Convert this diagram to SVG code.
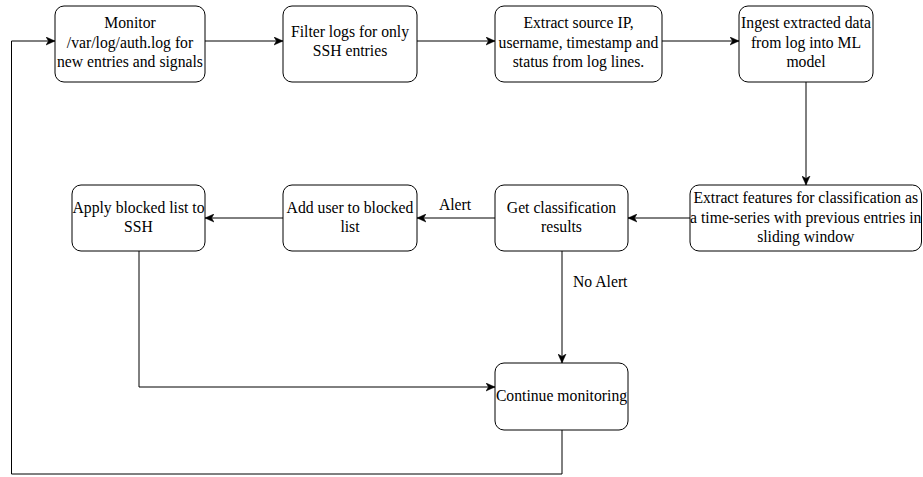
<svg xmlns="http://www.w3.org/2000/svg" width="923" height="477" viewBox="0 0 923 477">
<style>
.box{fill:#fff;stroke:#000;stroke-width:1}
.t{font-family:"Liberation Serif","Times New Roman",serif;font-size:15.7px;fill:#000;text-anchor:middle}
.l{font-family:"Liberation Serif","Times New Roman",serif;font-size:15.7px;fill:#000}
.c{fill:none;stroke:#000;stroke-width:1;marker-end:url(#arr)}
</style>
<defs>
<marker id="arr" markerUnits="userSpaceOnUse" markerWidth="10" markerHeight="9" refX="9" refY="4.5" orient="auto">
<path d="M0,0.5 L9,4.5 L0,8.5 L2.5,4.5 Z" fill="#000" stroke="#000" stroke-width="0.5"/>
</marker>
</defs>
<rect width="923" height="477" fill="#fff"/>
<g id="connectors">
<path class="c" d="M562,430 V474 H11.5 V41 H55"/>
<path class="c" d="M205,41 H283"/>
<path class="c" d="M417,41 H495"/>
<path class="c" d="M662,41 H739"/>
<path class="c" d="M806,82 V185"/>
<path class="c" d="M690,218 H628"/>
<path class="c" d="M495,218 H417"/>
<path class="c" d="M283,218 H205"/>
<path class="c" d="M139,251 V387 H495"/>
<path class="c" d="M562,251 V363"/>
<text class="l" x="455" y="210" text-anchor="middle">Alert</text>
<text class="l" x="573" y="287">No Alert</text>
</g>
<g id="monitor">
<rect class="box" x="55" y="6" width="150" height="76" rx="9"/>
<text class="t" x="130" y="28">Monitor</text>
<text class="t" x="130" y="47.5">/var/log/auth.log for</text>
<text class="t" x="130" y="67">new entries and signals</text>
</g>
<g id="filter">
<rect class="box" x="283" y="6" width="134" height="76" rx="9"/>
<text class="t" x="350" y="37">Filter logs for only</text>
<text class="t" x="350" y="56">SSH entries</text>
</g>
<g id="extract">
<rect class="box" x="495" y="6" width="167" height="76" rx="9"/>
<text class="t" x="578.5" y="28">Extract source IP,</text>
<text class="t" x="578.5" y="47.5">username, timestamp and</text>
<text class="t" x="578.5" y="67">status from log lines.</text>
</g>
<g id="ingest">
<rect class="box" x="739" y="6" width="134" height="76" rx="9"/>
<text class="t" x="806" y="28">Ingest extracted data</text>
<text class="t" x="806" y="47.5">from log into ML</text>
<text class="t" x="806" y="67">model</text>
</g>
<g id="features">
<rect class="box" x="690" y="185" width="231.5" height="66" rx="9"/>
<text class="t" x="805.75" y="203">Extract features for classification as</text>
<text class="t" x="805.75" y="222.5">a time-series with previous entries in</text>
<text class="t" x="805.75" y="242">sliding window</text>
</g>
<g id="classify">
<rect class="box" x="495" y="185" width="133" height="66" rx="9"/>
<text class="t" x="561.5" y="213">Get classification</text>
<text class="t" x="561.5" y="232">results</text>
</g>
<g id="adduser">
<rect class="box" x="283" y="185" width="134" height="66" rx="9"/>
<text class="t" x="350" y="213">Add user to blocked</text>
<text class="t" x="350" y="232">list</text>
</g>
<g id="apply">
<rect class="box" x="72" y="185" width="133" height="66" rx="9"/>
<text class="t" x="138.5" y="213">Apply blocked list to</text>
<text class="t" x="138.5" y="232">SSH</text>
</g>
<g id="continue">
<rect class="box" x="495" y="363" width="133" height="67" rx="9"/>
<text class="t" x="561.5" y="401">Continue monitoring</text>
</g>
</svg>
